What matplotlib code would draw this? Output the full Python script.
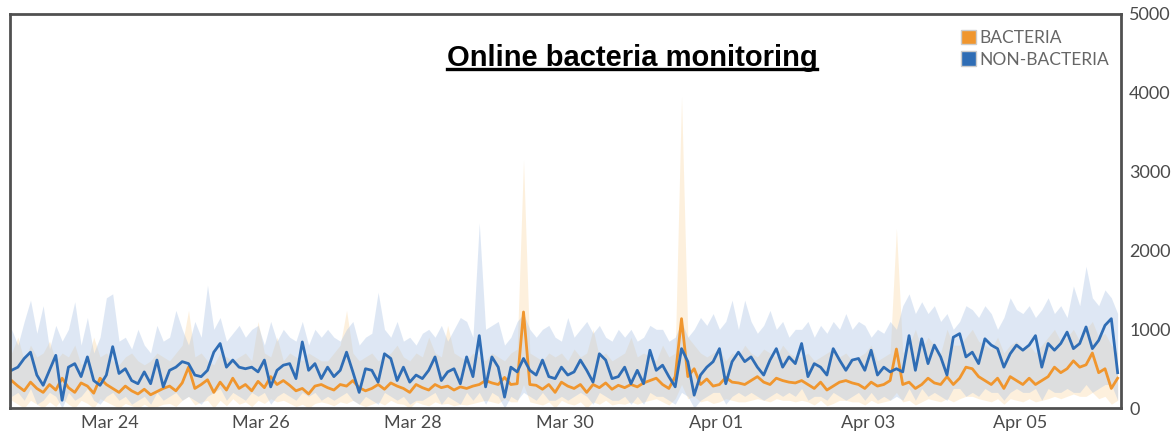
import numpy as np
import pandas as pd
import matplotlib
matplotlib.use('Agg')
import matplotlib.pyplot as plt
import matplotlib.dates as mdates
import matplotlib.patches as patches
from matplotlib.lines import Line2D

# samples every 2 hours, Mar 22 17:00 -> Apr 06 07:00
times = pd.date_range('2020-03-22 17:00', periods=176, freq='2h')

# NON-BACTERIA mean
non_bacteria = [
    480, 520, 630, 710, 420, 290, 480, 670, 100, 520, 565, 400, 650, 350, 290, 420, 780, 440, 500, 350, 310, 460, 310, 610, 270,
    480, 520, 590, 565, 420, 400, 480, 710, 820, 520, 610, 520, 500, 520, 460, 610, 270, 480, 545, 565, 375, 840, 480, 565, 375,
    520, 400, 480, 710, 460, 200, 500, 480, 330, 690, 630, 350, 520, 330, 420, 375, 480, 650, 350, 460, 500, 310, 650, 400, 920,
    270, 650, 520, 140, 520, 460, 630, 480, 420, 610, 400, 375, 520, 420, 460, 610, 480, 330, 690, 610, 375, 400, 520, 310, 480,
    310, 735, 480, 545, 400, 270, 755, 590, 165, 420, 520, 590, 755, 310, 590, 710, 590, 650, 520, 420, 610, 755, 520, 650, 565,
    820, 400, 565, 520, 420, 755, 610, 480, 610, 630, 480, 735, 420, 520, 460, 500, 460, 920, 480, 880, 565, 800, 650, 420, 900,
    945, 650, 710, 565, 880, 800, 755, 520, 690, 800, 735, 800, 920, 520, 820, 735, 820, 965, 755, 820, 1030, 755, 860, 1050, 1135, 450,
]
non_bacteria_hi = [
    1000, 800, 1100, 1370, 950, 1300, 750, 1050, 850, 1000, 1350, 800, 1150, 700, 900, 1400, 1450, 850, 900, 750, 1000, 800, 700, 1050, 850,
    900, 1240, 1000, 800, 1100, 900, 1560, 1000, 1150, 850, 950, 1050, 900, 1000, 1050, 800, 1100, 850, 1000, 900, 850, 1100, 800, 1000, 900,
    1000, 900, 850, 1000, 1100, 800, 900, 950, 1470, 1000, 900, 1100, 850, 900, 800, 950, 1000, 900, 1050, 850, 1000, 1150, 1100, 900, 2350,
    1000, 1050, 1100, 800, 900, 1100, 1200, 1000, 900, 1000, 1050, 900, 850, 1150, 900, 1000, 1100, 950, 1050, 900, 850, 1000, 900, 1000, 850,
    900, 1050, 1000, 1000, 850, 900, 1100, 900, 1000, 1150, 1050, 1200, 1000, 1100, 1370, 1000, 1370, 1100, 950, 1050, 1240, 1000, 1100, 900, 1000,
    1000, 1100, 900, 1050, 950, 1100, 1000, 1200, 1000, 1100, 1050, 900, 1000, 950, 1100, 1000, 1300, 1450, 1200, 1350, 1200, 1300, 1100, 1200, 1000,
    1100, 1300, 1250, 1150, 1300, 1200, 1000, 1150, 1400, 1250, 1200, 1300, 1150, 1250, 1400, 1200, 1300, 1150, 1550, 1300, 1800, 1400, 1300, 1500, 1400, 1200,
]
non_bacteria_lo = [
    150, 200, 100, 250, 50, 100, 200, 150, 0, 200, 100, 150, 250, 100, 50, 150, 200, 100, 150, 50, 100, 150, 50, 200, 100,
    150, 200, 100, 150, 100, 50, 150, 200, 250, 100, 200, 150, 100, 200, 150, 200, 50, 150, 200, 150, 100, 200, 150, 200, 100,
    150, 100, 150, 200, 100, 50, 150, 100, 50, 200, 150, 100, 150, 50, 100, 100, 150, 200, 50, 150, 100, 50, 200, 100, 200,
    50, 200, 150, 0, 150, 100, 200, 150, 100, 200, 100, 100, 150, 100, 150, 200, 150, 50, 200, 150, 100, 100, 150, 50, 150,
    50, 200, 150, 150, 100, 50, 200, 150, 0, 100, 150, 200, 200, 50, 150, 200, 150, 200, 150, 100, 150, 200, 150, 200, 150,
    250, 100, 150, 150, 100, 200, 150, 100, 150, 200, 100, 200, 100, 150, 100, 150, 100, 250, 100, 250, 150, 200, 150, 100, 250,
    250, 150, 200, 150, 250, 200, 200, 100, 200, 250, 200, 200, 250, 100, 250, 200, 200, 250, 200, 200, 300, 200, 250, 300, 300, 100,
]

# BACTERIA mean
bacteria = [
    350, 280, 220, 330, 250, 200, 300, 230, 380, 260, 200, 320, 280, 190, 380, 300, 250, 200, 280, 220, 180, 240, 170, 210, 250,
    280, 220, 320, 520, 250, 300, 360, 200, 330, 230, 380, 250, 300, 220, 340, 260, 400, 300, 350, 290, 220, 250, 180, 280, 300,
    260, 230, 300, 280, 350, 260, 220, 250, 300, 240, 320, 280, 250, 200, 300, 260, 230, 300, 260, 280, 230, 270, 250, 280, 300,
    350, 320, 300, 390, 300, 310, 1220, 300, 290, 240, 300, 200, 330, 280, 250, 300, 200, 300, 260, 320, 240, 290, 260, 300, 270,
    320, 350, 380, 300, 250, 400, 1135, 400, 500, 300, 370, 280, 300, 390, 330, 320, 300, 350, 400, 330, 300, 380, 350, 330, 320,
    350, 300, 250, 330, 230, 280, 330, 350, 320, 300, 250, 330, 280, 300, 350, 750, 300, 330, 250, 300, 380, 320, 300, 400, 300,
    380, 520, 500, 400, 350, 300, 380, 250, 400, 350, 300, 380, 300, 350, 400, 520, 450, 500, 600, 520, 550, 700, 450, 500, 250, 380,
]
bacteria_hi = [
    700, 900, 600, 800, 650, 700, 850, 600, 700, 650, 800, 550, 600, 900, 650, 700, 600, 550, 650, 700, 600, 550, 600, 700, 650,
    600, 700, 800, 1240, 650, 700, 600, 550, 700, 650, 600, 650, 700, 600, 1100, 700, 650, 900, 600, 700, 650, 600, 700, 650, 600,
    600, 700, 800, 1240, 700, 600, 650, 700, 600, 650, 700, 800, 650, 600, 700, 650, 900, 700, 650, 1050, 700, 650, 600, 700, 650,
    600, 700, 650, 600, 700, 750, 3150, 700, 650, 600, 700, 650, 700, 600, 750, 650, 700, 1000, 650, 700, 600, 650, 700, 900, 650,
    700, 650, 600, 800, 650, 700, 3960, 900, 800, 700, 650, 700, 750, 600, 700, 650, 800, 700, 650, 750, 700, 650, 800, 700, 650,
    650, 700, 600, 650, 700, 750, 650, 700, 600, 650, 700, 800, 600, 650, 700, 2280, 700, 800, 1000, 750, 900, 800, 700, 1000, 800,
    800, 900, 1000, 850, 800, 750, 900, 700, 800, 850, 750, 800, 700, 800, 900, 1000, 850, 900, 1000, 850, 1000, 1100, 900, 950, 800, 700,
]
bacteria_lo = [
    100, 50, 0, 100, 50, 0, 80, 20, 120, 50, 0, 100, 60, 0, 120, 80, 40, 0, 60, 30, 0, 50, 0, 20, 50,
    60, 20, 100, 150, 40, 80, 100, 0, 100, 30, 120, 50, 80, 20, 100, 60, 120, 80, 100, 60, 20, 50, 0, 60, 80,
    60, 30, 80, 60, 100, 50, 20, 50, 80, 40, 100, 60, 50, 0, 80, 50, 30, 80, 50, 60, 30, 50, 40, 60, 80,
    100, 80, 60, 120, 80, 80, 300, 80, 60, 40, 80, 0, 100, 60, 40, 80, 0, 80, 50, 100, 40, 60, 50, 80, 50,
    80, 100, 120, 80, 40, 120, 300, 120, 150, 80, 100, 60, 80, 120, 100, 80, 80, 100, 120, 100, 80, 120, 100, 100, 80,
    100, 80, 40, 100, 30, 60, 100, 100, 80, 80, 40, 100, 60, 80, 100, 200, 80, 100, 40, 80, 120, 100, 80, 120, 80,
    120, 150, 150, 120, 100, 80, 120, 50, 120, 100, 80, 120, 80, 100, 120, 150, 120, 150, 180, 150, 150, 200, 120, 150, 50, 100,
]

tick_dates = pd.to_datetime(['2020-03-24', '2020-03-26', '2020-03-28', '2020-03-30',
                             '2020-04-01', '2020-04-03', '2020-04-05'])
y_ticks = [0, 1000, 2000, 3000, 4000, 5000]

BLUE = '#2f6db5'
ORANGE = '#f0962e'
TXT = '#4a4a4a'

fig = plt.figure(figsize=(11.73, 4.37), dpi=100)
ax = fig.add_axes([0.0085, 0.066, 0.947, 0.902])

ax.fill_between(times, bacteria_lo, bacteria_hi, color='#fbd9a6', alpha=0.38, lw=0)
ax.fill_between(times, non_bacteria_lo, non_bacteria_hi, color='#a9c2e4', alpha=0.38, lw=0)
ax.plot(times, bacteria, color=ORANGE, lw=2.0)
ax.plot(times, non_bacteria, color=BLUE, lw=2.0)

ax.set_xlim(pd.Timestamp('2020-03-22 16:30'), pd.Timestamp('2020-04-06 08:00'))
ax.set_ylim(0, 5000)
ax.set_xticks(tick_dates)
ax.xaxis.set_major_formatter(mdates.DateFormatter('%b %d'))
ax.yaxis.tick_right()
ax.set_yticks(y_ticks)
ax.tick_params(axis='both', length=0, labelsize=13, colors=TXT, labelcolor=TXT)
ax.tick_params(axis='x', pad=5)
ax.tick_params(axis='y', pad=6)
for lab in ax.get_xticklabels() + ax.get_yticklabels():
    lab.set_family('Lato')

for sp in ax.spines.values():
    sp.set_color('#505050')
    sp.set_linewidth(2)

# title with underline
title = ax.text(0.56, 0.888, 'Online bacteria monitoring', transform=ax.transAxes,
                ha='center', va='center', fontsize=21, fontweight='bold',
                family='Liberation Sans', color='black')
fig.canvas.draw()
bb = title.get_window_extent(renderer=fig.canvas.get_renderer())
inv = fig.transFigure.inverted()
(x0, y0), (x1, y1) = inv.transform([(bb.x0, bb.y0), (bb.x1, bb.y1)])
fig.add_artist(Line2D([x0, x1], [y0 + 0.007, y0 + 0.007], color='black', lw=2.4,
                      transform=fig.transFigure))

handles = [patches.Patch(facecolor=ORANGE, edgecolor='#cccccc', label='BACTERIA'),
           patches.Patch(facecolor=BLUE, edgecolor='#cccccc', label='NON-BACTERIA')]
leg = ax.legend(handles=handles, loc='upper right', bbox_to_anchor=(1.0, 0.99),
                frameon=False, handlelength=0.9, handleheight=0.9,
                handletextpad=0.15, labelspacing=0.3, borderaxespad=0.3,
                prop={'family': 'Lato', 'size': 12.5})
for t in leg.get_texts():
    t.set_color('#666666')

fig.savefig('out.png', dpi=100)
